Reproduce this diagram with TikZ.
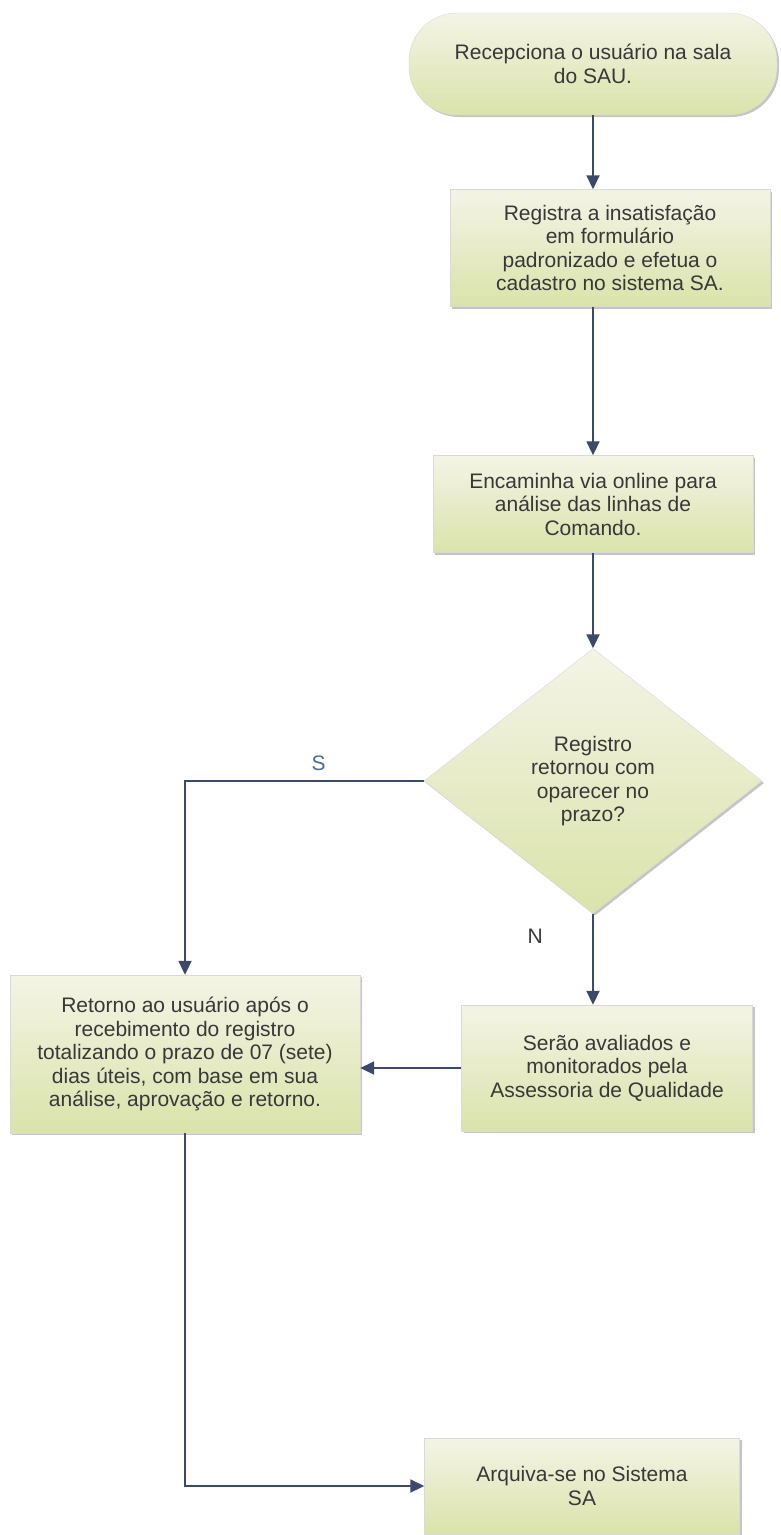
\documentclass[tikz,border=0pt]{standalone}
\usepackage{fontspec}
\setmainfont{Liberation Sans}
\usetikzlibrary{positioning,shapes.geometric,shadows,arrows.meta}
\definecolor{boxlight}{HTML}{F4F4E6}
\definecolor{boxgreen}{HTML}{DAE3AA}
\definecolor{linkblue}{HTML}{3B4A68}
\definecolor{txtgray}{HTML}{383838}
\definecolor{sblue}{HTML}{4C6B91}

\begin{document}
\begin{tikzpicture}[x=1pt,y=-1pt,
                    every node/.style={font=\fontsize{21}{23.5}\selectfont,text=txtgray,align=center},
                    box/.style={rectangle,draw=black!15,top color=boxlight,bottom color=boxgreen,
                                drop shadow={shadow xshift=2pt,shadow yshift=-2pt,fill=black!45},inner sep=4pt},
                    term/.style={box,rounded corners=48pt},
                    decis/.style={box,diamond,inner sep=0pt},
                    lbl/.style={draw=none,fill=none},
                    arr/.style={draw=linkblue,line width=1.8pt,-{Triangle[length=14pt,width=13pt]}}]
  \useasboundingbox (0,0) rectangle (780,1535);
  \node[term,minimum width=368pt,minimum height=102pt] (start) at (593,64) {Recepciona o usuário na sala\\do SAU.};
  \node[box,minimum width=320pt,minimum height=117pt] (reg) at (610,248) {Registra a insatisfação\\em formulário\\padronizado e efetua o\\cadastro no sistema SA.};
  \node[box,minimum width=320pt,minimum height=97pt] (enc) at (593,504) {Encaminha via online para\\análise das linhas de\\Comando.};
  \node[decis,minimum width=338pt,minimum height=265pt] (dec) at (593,781) {Registro\\retornou com\\oparecer no\\prazo?};
  \node[box,minimum width=350pt,minimum height=158pt] (ret) at (185,1054) {Retorno ao usuário após o\\recebimento do registro\\totalizando o prazo de 07 (sete)\\dias úteis, com base em sua\\análise, aprovação e retorno.};
  \node[box,minimum width=291pt,minimum height=126pt] (ava) at (607,1068) {Serão avaliados e\\monitorados pela\\Assessoria de Qualidade};
  \node[box,minimum width=315pt,minimum height=96pt] (arq) at (582,1486) {Arquiva-se no Sistema\\SA};
  \draw[arr] (start) -- (start |- reg.north);
  \draw[arr] (reg.south -| enc) -- (enc.north);
  \draw[arr] (enc) -- (dec);
  \draw[arr] (dec.west) -| (ret.north) node[lbl,pos=.22,above=6pt,text=sblue]{S};
  \draw[arr] (dec) -- (dec |- ava.north) node[lbl,pos=.25,left=46pt]{N};
  \draw[arr] (ava.west) -- (ava.west -| ret.east);
  \draw[arr] (ret) |- (arq);
\end{tikzpicture}
\end{document}
